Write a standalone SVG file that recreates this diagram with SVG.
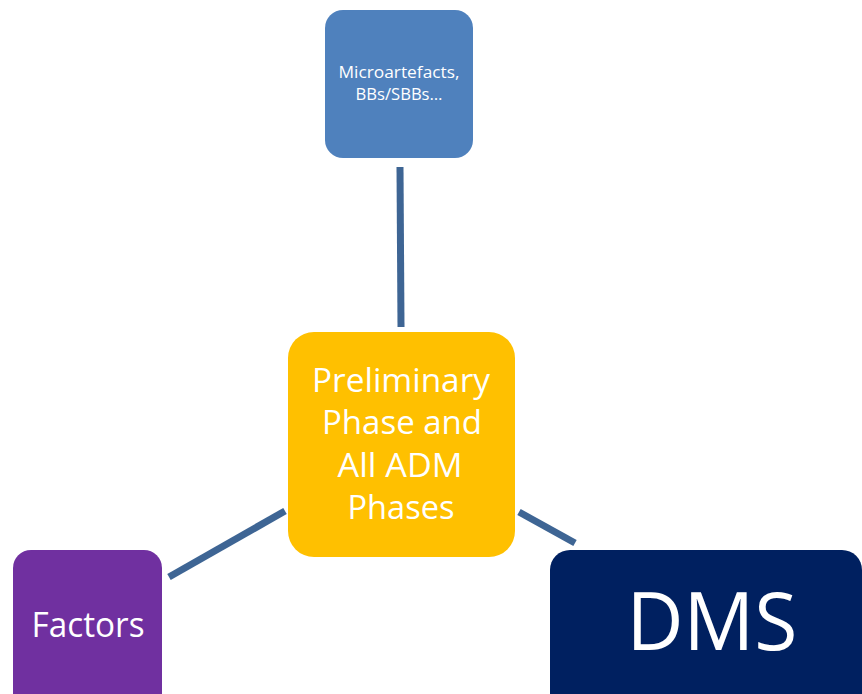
<svg xmlns="http://www.w3.org/2000/svg" width="862" height="694" viewBox="0 0 862 694">
<style>
.t{font-family:"Open Sans","Liberation Sans",sans-serif;fill:#ffffff;text-anchor:middle}
.c{stroke:#3E6594;stroke-width:7;stroke-linecap:butt;fill:none}
</style>
<rect width="862" height="694" fill="#ffffff"/>
<g id="connectors">
<line class="c" x1="400" y1="167" x2="401" y2="327"/>
<line class="c" x1="169" y1="577" x2="285" y2="511"/>
<line class="c" x1="519" y1="512" x2="575" y2="543"/>
</g>
<g id="node-micro">
<rect x="325" y="10" width="148" height="148" rx="18" fill="#4F81BD"/>
<text class="t" x="399" y="78" font-size="15.5" textLength="121" lengthAdjust="spacingAndGlyphs">Microartefacts,</text>
<text class="t" x="399" y="100" font-size="15.5" textLength="87" lengthAdjust="spacingAndGlyphs">BBs/SBBs…</text>
</g>
<g id="node-center">
<rect x="288" y="332" width="227" height="225" rx="26" fill="#FFC000"/>
<text class="t" x="401" y="392" font-size="32" textLength="178" lengthAdjust="spacingAndGlyphs">Preliminary</text>
<text class="t" x="402" y="434" font-size="32" textLength="160" lengthAdjust="spacingAndGlyphs">Phase and</text>
<text class="t" x="400" y="477" font-size="32" textLength="125" lengthAdjust="spacingAndGlyphs">All ADM</text>
<text class="t" x="401" y="519" font-size="32" textLength="107" lengthAdjust="spacingAndGlyphs">Phases</text>
</g>
<g id="node-factors">
<rect x="13" y="550" width="149" height="165" rx="18" fill="#7030A0"/>
<text class="t" x="88" y="637" font-size="34" textLength="113" lengthAdjust="spacingAndGlyphs">Factors</text>
</g>
<g id="node-dms">
<rect x="550" y="550" width="312" height="165" rx="20" fill="#002060"/>
<text class="t" x="712" y="650" font-size="80" textLength="171" lengthAdjust="spacingAndGlyphs">DMS</text>
</g>
</svg>
